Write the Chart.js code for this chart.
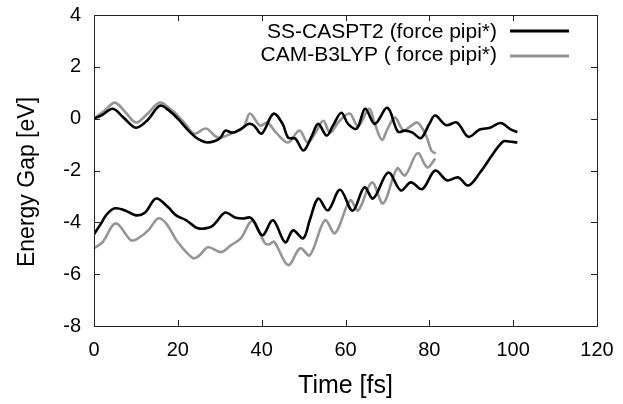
<!DOCTYPE html>
<html><head><meta charset="utf-8">
<script src="https://cdn.jsdelivr.net/npm/chart.js@4/dist/chart.umd.min.js"></script>
<style>html,body{margin:0;padding:0;background:#fff}#wrap{width:623px;height:404px}</style>
</head><body><div id="wrap"><canvas id="c" width="623" height="404"></canvas></div>
<script>
// ---- data ----
const seriesLabels = ['SS-CASPT2 (force pipi*)', 'CAM-B3LYP ( force pipi*)'];
const xAxisTitle = 'Time [fs]';
const yAxisTitle = 'Energy Gap [eV]';
const xTickValues = [0, 20, 40, 60, 80, 100, 120];
const yTickValues = [-8, -6, -4, -2, 0, 2, 4];

const caspt2UpperTime = [0, 2, 4.5, 7, 10, 12.8, 15.7, 18, 20, 23, 25, 27, 29, 30.2, 31.3, 33, 35, 37, 38.2, 40, 42.8, 45, 46.3, 48, 50, 52, 53.5, 55.5, 57, 59, 60.6, 62.7, 64.7, 67, 70, 72.5, 74.2, 76, 78, 80, 81.4, 84, 86.6, 89.3, 92, 94.5, 97, 99.5, 101];
const caspt2UpperGap  = [0, 0.15, 0.38, 0.05, -0.35, -0.05, 0.5, 0.3, 0, -0.54, -0.8, -0.92, -0.85, -0.73, -0.46, -0.54, -0.4, -0.2, -0.27, -0.58, 0.19, -0.2, -0.73, -0.77, -1.23, -0.65, -0.2, -0.65, -0.27, 0.23, -0.2, -0.38, 0.38, -0.2, 0.42, -0.5, -0.46, -0.54, -0.75, -0.2, 0.12, -0.25, -0.15, -0.7, -0.42, -0.35, -0.17, -0.42, -0.52];

const camUpperTime = [0, 2.5, 5, 7.5, 10, 12.5, 15.7, 18, 20, 22, 24, 26.7, 29.6, 32.7, 35.6, 37.2, 39.6, 41.3, 43.5, 46.3, 49, 51, 53, 54.7, 56.3, 58.5, 61, 63, 65.6, 67, 68.7, 70, 71.8, 73.8, 75.5, 77.2, 79.2, 80.5, 81.5];
const camUpperGap  = [0, 0.3, 0.62, 0.25, -0.15, 0.15, 0.62, 0.4, 0.12, -0.25, -0.58, -0.38, -0.73, -0.58, -0.35, 0.2, -0.27, -0.15, -0.55, -0.92, -0.46, -0.92, -0.5, -0.08, -0.54, -0.1, 0.2, -0.3, 0.38, -0.2, -0.82, -0.4, 0.04, -0.45, -0.3, -0.15, -0.65, -1.23, -1.35];

const caspt2LowerTime = [0, 1.7, 3, 5, 7.4, 10, 12.2, 14.8, 17.7, 19.6, 22, 24.8, 27.7, 29.1, 31.3, 33.6, 35.6, 37.2, 38, 40.2, 42.7, 45.6, 47.5, 49.9, 51.5, 53.5, 55.8, 58.7, 61.7, 64.5, 66.6, 70.2, 73.2, 75.6, 78.3, 81.4, 84.2, 86.9, 89.3, 92.1, 95.1, 97.6, 99, 101];
const caspt2LowerGap  = [-4.46, -4.04, -3.7, -3.46, -3.54, -3.73, -3.62, -3.08, -3.42, -3.73, -3.92, -4.23, -4.19, -4.0, -3.62, -3.81, -3.85, -3.81, -3.92, -4.5, -3.92, -4.77, -4.31, -4.62, -3.9, -3.08, -3.54, -2.74, -3.55, -2.65, -3.08, -2.08, -2.77, -2.46, -2.72, -2.0, -2.38, -2.27, -2.58, -2.08, -1.38, -0.88, -0.88, -0.92];

const camLowerTime = [0, 2, 5.2, 8.8, 10.5, 13, 15.3, 17.2, 20, 23.6, 25, 27.2, 30.3, 32.7, 35, 37.8, 40.8, 41.8, 43, 46.3, 49.2, 51.5, 55.1, 57.5, 61.1, 63, 66.3, 69, 72.3, 74.2, 77.2, 79.5, 81.4];
const camLowerGap  = [-5.0, -4.77, -4.04, -4.69, -4.62, -4.3, -3.85, -4.04, -4.77, -5.38, -5.3, -4.96, -5.15, -4.88, -4.62, -3.95, -4.81, -4.85, -4.75, -5.65, -5.0, -5.27, -3.92, -4.42, -3.15, -3.54, -2.46, -3.27, -1.92, -2.19, -1.33, -1.88, -1.54];

// ---- styling ----
const BLACK = '#000000';
const GRAY = '#959595';
const FONT = "'Liberation Sans', Arial, sans-serif";

function pts(t, v) { return t.map((x, i) => ({x: x, y: v[i]})); }

const datasets = [
  {label: seriesLabels[0], data: pts(caspt2UpperTime, caspt2UpperGap), borderColor: BLACK},
  {label: seriesLabels[1], data: pts(camUpperTime, camUpperGap), borderColor: GRAY},
  {label: seriesLabels[0] + ' lower', data: pts(caspt2LowerTime, caspt2LowerGap), borderColor: BLACK},
  {label: seriesLabels[1] + ' lower', data: pts(camLowerTime, camLowerGap), borderColor: GRAY}
].map(d => Object.assign(d, {borderWidth: 2.6, pointRadius: 0, tension: 0.35, fill: false}));

const boxPlugin = {
  id: 'gnuBox',
  afterDatasetsDraw(chart) {
    const {ctx, chartArea: a, scales: {x, y}} = chart;
    ctx.save();
    ctx.strokeStyle = '#222';
    ctx.lineWidth = 1;
    ctx.strokeRect(Math.round(a.left) + 0.5, Math.round(a.top) + 0.5, Math.round(a.right - a.left), Math.round(a.bottom - a.top));
    const L = 6;
    ctx.beginPath();
    xTickValues.forEach(v => {
      const px = Math.round(x.getPixelForValue(v)) + 0.5;
      ctx.moveTo(px, a.bottom); ctx.lineTo(px, a.bottom - L);
      ctx.moveTo(px, a.top); ctx.lineTo(px, a.top + L);
    });
    yTickValues.forEach(v => {
      const py = Math.round(y.getPixelForValue(v)) + 0.5;
      ctx.moveTo(a.left, py); ctx.lineTo(a.left + L, py);
      ctx.moveTo(a.right, py); ctx.lineTo(a.right - L, py);
    });
    ctx.stroke();
    // y axis title
    ctx.save();
    ctx.translate(28, 182);
    ctx.rotate(-Math.PI / 2);
    ctx.font = '23px ' + FONT;
    ctx.fillStyle = '#000';
    ctx.textAlign = 'center';
    ctx.textBaseline = 'middle';
    ctx.fillText(yAxisTitle, 0, 0);
    ctx.restore();
    // legend (inside plot, top right)
    ctx.font = '21px ' + FONT;
    ctx.fillStyle = '#000';
    ctx.textAlign = 'right';
    ctx.textBaseline = 'alphabetic';
    const rows = [{t: seriesLabels[0], c: BLACK, base: 37.5, ly: 31}, {t: seriesLabels[1], c: GRAY, base: 61, ly: 56}];
    rows.forEach(r => {
      ctx.fillText(r.t, 497, r.base);
      ctx.beginPath();
      ctx.strokeStyle = r.c;
      ctx.lineWidth = 3;
      ctx.moveTo(510, r.ly); ctx.lineTo(569, r.ly);
      ctx.stroke();
    });
    ctx.restore();
  }
};

new Chart(document.getElementById('c'), {
  type: 'line',
  data: {datasets: datasets},
  options: {
    responsive: false,
    animation: false,
    devicePixelRatio: 1,
    layout: {padding: {top: 15, right: 26, left: 0, bottom: 0}},
    plugins: {legend: {display: false}, tooltip: {enabled: false}},
    scales: {
      x: {
        type: 'linear', min: 0, max: 120,
        afterBuildTicks: s => { s.ticks = xTickValues.map(v => ({value: v})); },
        afterFit: s => { s.height = 78; s.paddingLeft = 0; s.paddingRight = 0; },
        grid: {display: false, drawTicks: false},
        border: {display: false},
        ticks: {color: '#000', font: {family: FONT, size: 20}, padding: 12, maxRotation: 0},
        title: {display: true, text: xAxisTitle, color: '#000', font: {family: FONT, size: 25}, padding: {top: 0, bottom: 3}}
      },
      y: {
        type: 'linear', min: -8, max: 4,
        afterBuildTicks: s => { s.ticks = yTickValues.map(v => ({value: v})); },
        afterFit: s => { s.width = 94; s.paddingTop = 0; s.paddingBottom = 0; },
        grid: {display: false, drawTicks: false},
        border: {display: false},
        ticks: {color: '#000', font: {family: FONT, size: 20}, padding: 13},
        title: {display: false}
      }
    }
  },
  plugins: [boxPlugin]
});
</script>
</body></html>
